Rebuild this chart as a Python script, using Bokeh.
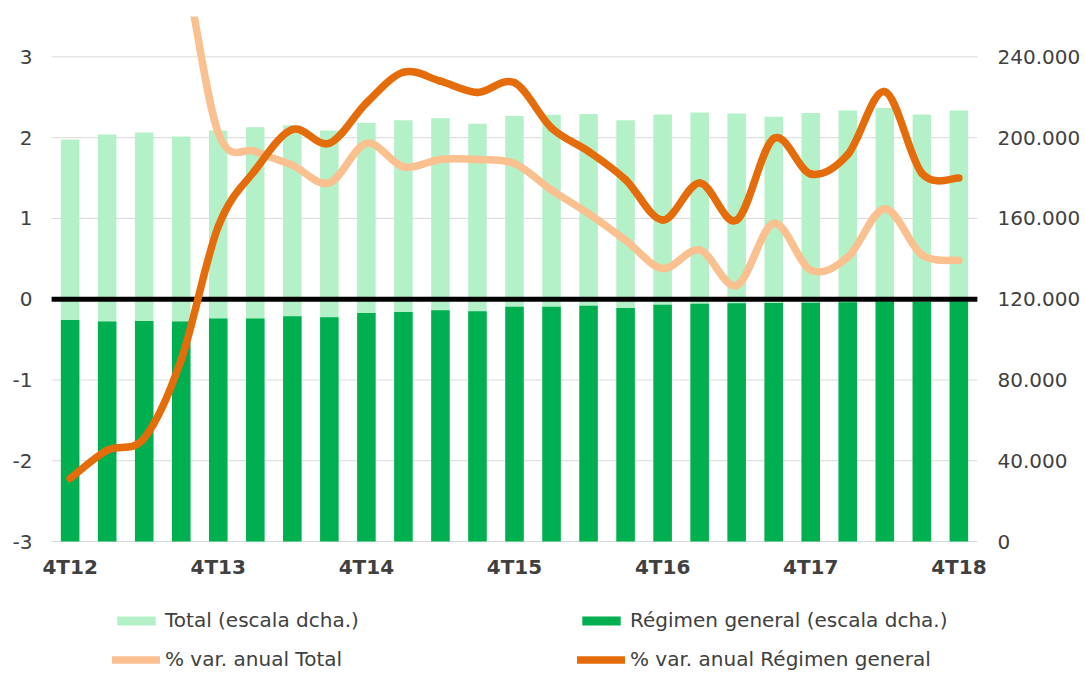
import numpy as np
from bokeh.plotting import figure
from bokeh.models import Range1d, LinearAxis, FixedTicker, Legend, LegendItem
from bokeh.embed import file_html
from bokeh.resources import INLINE

quarters = ["4T12", "1T13", "2T13", "3T13", "4T13", "1T14", "2T14", "3T14", "4T14",
            "1T15", "2T15", "3T15", "4T15", "1T16", "2T16", "3T16", "4T16",
            "1T17", "2T17", "3T17", "4T17", "1T18", "2T18", "3T18", "4T18"]
total = [199100, 201600, 202600, 200600, 203500, 205100, 206100, 203600, 207200,
         208600, 209600, 206900, 210700, 211400, 211700, 208600, 211500,
         212500, 212000, 210400, 212200, 213500, 214700, 211500, 213400]
regimen = [109700, 108900, 109200, 108900, 110400, 110500, 111500, 111000, 113200,
           113700, 114500, 114000, 116300, 116200, 116700, 115700, 117300,
           117800, 118000, 118100, 118300, 118500, 118800, 118600, 118900]
var_total = [7.2, 6.4, 5.6, 4.3, 2.06, 1.83, 1.66, 1.44, 1.93,
             1.64, 1.73, 1.73, 1.68, 1.35, 1.06, 0.73, 0.38,
             0.61, 0.17, 0.94, 0.36, 0.52, 1.12, 0.55, 0.48]
var_regimen = [-2.22, -1.87, -1.72, -0.75, 0.90, 1.60, 2.10, 1.93, 2.43,
               2.81, 2.70, 2.56, 2.68, 2.12, 1.83, 1.48, 0.98,
               1.44, 0.98, 1.99, 1.55, 1.79, 2.57, 1.56, 1.50]
left_ticks = [-3, -2, -1, 0, 1, 2, 3]
right_ticks = [0, 40000, 80000, 120000, 160000, 200000, 240000]
labels = ["Total (escala dcha.)", "Régimen general (escala dcha.)",
          "% var. anual Total", "% var. anual Régimen general"]

FONT = "DejaVu Sans"
TXT = "#404040"

W, H = 1084, 672
TOP = 16
PLOT_L, PLOT_R = 51, 977      # canvas x of the category area edges
PAD = 0.3                     # extra category units so edge tick labels are not clipped
AXIS_PX = 541                 # canvas y of the value -3 (bar baseline)
LEFT_MIN, LEFT_MAX = -3.0, 3.5
RIGHT_PER_UNIT = 40000.0

n = len(quarters)
unit_x = (PLOT_R - PLOT_L) / n
LEFT = int(round(PLOT_L - PAD * unit_x))
RIGHT = W - int(round(PLOT_R + PAD * unit_x))
px_per_unit = (AXIS_PX - TOP) / (LEFT_MAX - LEFT_MIN)
y_bottom = LEFT_MIN - (H - AXIS_PX) / px_per_unit     # frame reaches the canvas bottom

xs = np.arange(n, dtype=float)
x_lo, x_hi = xs[0] - 0.5, xs[-1] + 0.5

p = figure(width=W, height=H, x_range=Range1d(x_lo - PAD, x_hi + PAD),
           y_range=Range1d(y_bottom, LEFT_MAX), output_backend="svg", toolbar_location=None,
           x_axis_location=None,
           min_border_left=LEFT, min_border_right=RIGHT, min_border_top=TOP, min_border_bottom=0)
p.outline_line_color = None
p.extra_y_ranges = {"right": Range1d((y_bottom - LEFT_MIN) * RIGHT_PER_UNIT,
                                     (LEFT_MAX - LEFT_MIN) * RIGHT_PER_UNIT)}

# x axis pinned at the bar baseline
ax_x = LinearAxis(fixed_location=LEFT_MIN,
                  ticker=FixedTicker(ticks=[i for i, q in enumerate(quarters) if q.startswith("4T")]))
ax_x.major_label_overrides = {i: q for i, q in enumerate(quarters) if q.startswith("4T")}
ax_x.major_label_text_font_style = "bold"
ax_x.major_label_standoff = 13
p.add_layout(ax_x, "below")

p.yaxis.ticker = FixedTicker(ticks=left_ticks)
p.yaxis.major_label_overrides = {v: str(v) for v in left_ticks}
p.yaxis.major_label_standoff = 8

ax_r = LinearAxis(y_range_name="right", ticker=FixedTicker(ticks=right_ticks))
ax_r.major_label_overrides = {v: f"{v:,}".replace(",", ".") for v in right_ticks}
ax_r.major_label_standoff = 9
p.add_layout(ax_r, "right")

for ax in [ax_x, p.yaxis[0], ax_r]:
    ax.axis_line_color = None
    ax.major_tick_line_color = None
    ax.minor_tick_line_color = None
    ax.major_tick_out = 0
    ax.major_tick_in = 0
    ax.minor_tick_out = 0
    ax.major_label_text_font = FONT
    ax.major_label_text_font_size = "20px"
    ax.major_label_text_color = TXT

p.xgrid.visible = False
p.ygrid.visible = False

# horizontal gridlines limited to the category area
p.segment(x0=[x_lo] * len(left_ticks), x1=[x_hi] * len(left_ticks),
          y0=left_ticks, y1=left_ticks, line_color="#D9D9D9", line_width=1)

# bars
r_tot = p.vbar(x=xs, top=total, bottom=0, width=0.5, y_range_name="right",
               fill_color="#B4F0C8", line_color=None)
r_reg = p.vbar(x=xs, top=regimen, bottom=0, width=0.5, y_range_name="right",
               fill_color="#00B050", line_color=None)

# zero line
p.segment(x0=[x_lo], x1=[x_hi], y0=[0], y1=[0], line_color="black", line_width=5)


def smooth(ys):
    ys = np.asarray(ys, dtype=float)
    m = len(ys)
    xe = np.concatenate([[xs[0]], xs, [xs[-1]]])
    ye = np.concatenate([[ys[0]], ys, [ys[-1]]])
    x0, y0 = xs[:-1], ys[:-1]
    x1, y1 = xs[1:], ys[1:]
    cx0 = x0 + (xe[2:m + 1] - xe[0:m - 1]) / 6.0
    cy0 = y0 + (ye[2:m + 1] - ye[0:m - 1]) / 6.0
    cx1 = x1 - (xe[3:m + 2] - xe[1:m]) / 6.0
    cy1 = y1 - (ye[3:m + 2] - ye[1:m]) / 6.0
    return dict(x0=x0, y0=y0, x1=x1, y1=y1, cx0=cx0, cy0=cy0, cx1=cx1, cy1=cy1)


r_vt = p.bezier(**smooth(var_total), line_color="#FAC090", line_width=7.5, line_cap="round")
r_vr = p.bezier(**smooth(var_regimen), line_color="#E46C0A", line_width=7.5, line_cap="round")

# legends: 2x2 grid under the axis labels (inside the extended frame)
col1, col2 = 112 - LEFT, 577 - LEFT
spots = [(col1, 40), (col2, 40), (col1, 1), (col2, 1)]
for lab, r, loc in zip(labels, [r_tot, r_reg, r_vt, r_vr], spots):
    lg = Legend(items=[LegendItem(label=lab, renderers=[r])], location=loc,
                orientation="horizontal", padding=0, margin=0, spacing=0,
                glyph_width=48, glyph_height=11, label_standoff=5, label_height=20,
                label_text_font=FONT, label_text_font_size="20px", label_text_color=TXT,
                border_line_color=None, background_fill_alpha=0)
    p.add_layout(lg)

open("out.html", "w").write(file_html(p, INLINE))
